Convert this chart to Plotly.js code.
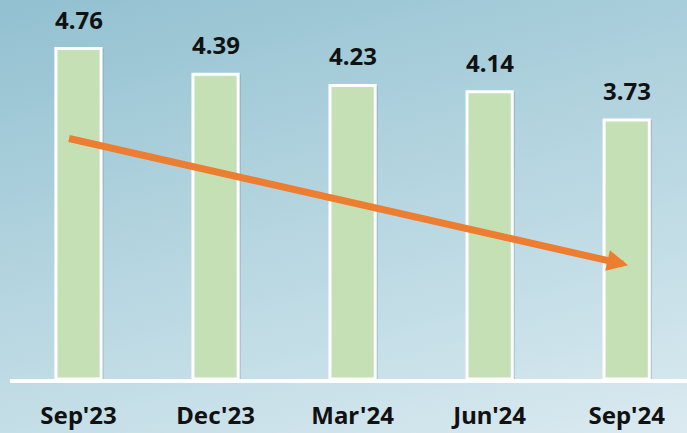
<!DOCTYPE html>
<html>
<head>
<meta charset="utf-8">
<script src="https://cdn.plot.ly/plotly-3.0.1.min.js"></script>
<style>
html,body{margin:0;padding:0;}
body{width:687px;height:433px;overflow:hidden;
background:linear-gradient(165deg,#92c0d0 0%,#acd0dc 35%,#c4dee7 70%,#dbeaf0 100%);}
#chart{width:687px;height:433px;}
</style>
</head>
<body>
<div id="chart"></div>
<script>
const categories = ["Sep'23","Dec'23","Mar'24","Jun'24","Sep'24"];
const values = [4.76, 4.39, 4.23, 4.14, 3.73];
const valueLabels = ["4.76","4.39","4.23","4.14","3.73"];
// decorative trend arrow, in data units: [start x, start y, end x, end y]
const trendArrow = [-0.08, 3.47, 4.01, 1.64];

const xs = categories.map((c,i)=>i);
const FONT = '"Noto Sans", "DejaVu Sans", sans-serif';

const data = [
  { // soft shadow to the right of each bar
    type:'bar', x:xs.map(v=>v+0.018), y:values, width:0.33,
    marker:{color:'rgba(70,100,115,0.28)', line:{width:0}},
    hoverinfo:'skip'
  },
  {
    type:'bar', x:xs, y:values, width:0.33,
    marker:{color:'#c5e0b4', line:{color:'#ffffff', width:3}},
    hoverinfo:'skip'
  }
];

const annotations = values.map((v,i)=>({
  x:i, y:v, xref:'x', yref:'y', text:'<b>'+valueLabels[i]+'</b>', showarrow:false,
  yanchor:'bottom', yshift:11,
  font:{family:FONT, size:24, color:'#111111'}
}));
annotations.push({
  x:trendArrow[2], y:trendArrow[3], ax:trendArrow[0], ay:trendArrow[1],
  xref:'x', yref:'y', axref:'x', ayref:'y', text:'', showarrow:true,
  arrowhead:2, arrowsize:0.6, arrowwidth:7, arrowcolor:'#ed7d31'
});

const layout = {
  width:687, height:433,
  margin:{l:10, r:0, t:0, b:54},
  paper_bgcolor:'rgba(0,0,0,0)', plot_bgcolor:'rgba(0,0,0,0)',
  showlegend:false, barmode:'overlay',
  xaxis:{range:[-0.5,4.44], tickvals:xs, ticktext:categories.map(c=>'<b>'+c+'</b>'), showgrid:false,
    zeroline:false, showline:true, linecolor:'#ffffff', linewidth:4, ticks:'',
    ticklabelstandoff:12,
    tickfont:{family:FONT, size:24, color:'#111111'}},
  yaxis:{range:[0,5.46], visible:false, showgrid:false, zeroline:false},
  annotations:annotations
};
Plotly.newPlot('chart', data, layout, {displayModeBar:false, staticPlot:true});
</script>
</body>
</html>
